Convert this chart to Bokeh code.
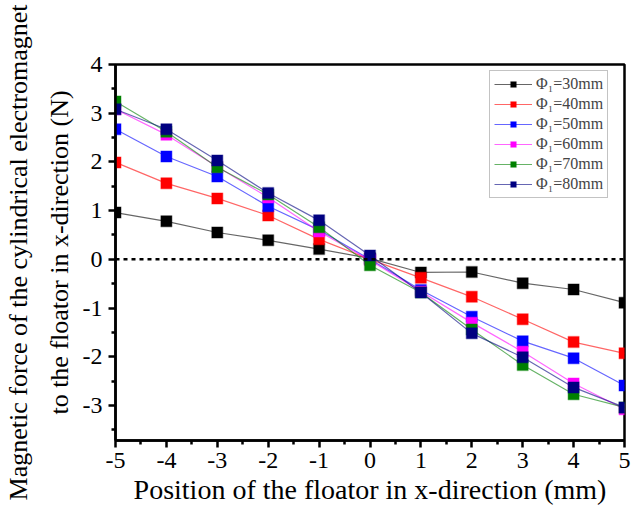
from bokeh.plotting import figure
from bokeh.models import Span, Legend, LegendItem, FixedTicker, CustomJSTickFormatter
from bokeh.embed import file_html
from bokeh.resources import INLINE

x = [-5, -4, -3, -2, -1, 0, 1, 2, 3, 4, 5]
phi30 = [0.96, 0.78, 0.55, 0.39, 0.21, 0.02, -0.27, -0.26, -0.49, -0.62, -0.89]
phi40 = [1.99, 1.56, 1.25, 0.90, 0.41, 0.0, -0.38, -0.77, -1.23, -1.70, -1.93]
phi50 = [2.67, 2.11, 1.70, 1.09, 0.60, 0.0, -0.63, -1.18, -1.68, -2.03, -2.59]
phi60 = [3.08, 2.56, 1.90, 1.27, 0.57, -0.02, -0.66, -1.30, -1.90, -2.55, -3.08]
phi70 = [3.24, 2.62, 1.89, 1.33, 0.66, -0.12, -0.68, -1.44, -2.17, -2.77, -3.04]
phi80 = [3.08, 2.67, 2.03, 1.36, 0.80, 0.08, -0.68, -1.52, -2.01, -2.63, -3.04]

series = [
    ("Φ₁=30mm", phi30, "black"),
    ("Φ₁=40mm", phi40, "red"),
    ("Φ₁=50mm", phi50, "blue"),
    ("Φ₁=60mm", phi60, "magenta"),
    ("Φ₁=70mm", phi70, "green"),
    ("Φ₁=80mm", phi80, "navy"),
]
xticks = [-5, -4, -3, -2, -1, 0, 1, 2, 3, 4, 5]
yticks = [-3, -2, -1, 0, 1, 2, 3, 4]

FONT = "Liberation Serif"

p = figure(width=631, height=512, output_backend="svg", toolbar_location=None,
           x_range=(-5, 5), y_range=(-3.72, 4.0),
           min_border_left=114, min_border_right=7, min_border_top=64, min_border_bottom=72)
p.grid.visible = False
p.outline_line_color = "black"
p.outline_line_width = 2.5
p.background_fill_color = "white"
p.border_fill_color = "white"

fmt = CustomJSTickFormatter(code="return tick.toString();")
p.xaxis.ticker = FixedTicker(ticks=xticks, minor_ticks=[v + 0.5 for v in xticks[:-1]])
p.yaxis.ticker = FixedTicker(ticks=yticks, minor_ticks=[v + 0.5 for v in [-4] + yticks[:-1]])
for ax in (p.xaxis, p.yaxis):
    ax.formatter = fmt
    ax.axis_line_width = 2.5
    ax.major_tick_line_width = 2.5
    ax.minor_tick_line_width = 2.5
    ax.major_tick_out = 7
    ax.major_tick_in = 0
    ax.minor_tick_out = 4
    ax.minor_tick_in = 0
    ax.major_label_text_font = FONT
    ax.major_label_text_font_size = "24px"
    ax.major_label_text_color = "black"
    ax.axis_label_text_font = FONT
    ax.axis_label_text_font_style = "normal"
    ax.axis_label_text_color = "black"

p.xaxis.axis_label_text_font_size = "28px"
p.yaxis.axis_label_text_font_size = "26px"
p.yaxis.axis_label_text_line_height = 1.4

p.xaxis.axis_label = "Position of the floator in x-direction (mm)"
p.yaxis.axis_label = "Magnetic force of the cylindrical electromagnet\nto the floator in x-direction (N)"
p.xaxis.major_label_standoff = 5
p.xaxis.axis_label_standoff = 3
p.yaxis.major_label_standoff = 6
p.yaxis.axis_label_standoff = 6

p.add_layout(Span(location=0, dimension="width", line_color="black",
                  line_width=2.5, line_dash="4 4"))

items = []
for label, ys, color in series:
    r1 = p.line(x, ys, line_color=color, line_width=1.2, line_alpha=0.6)
    r2 = p.scatter(x, ys, marker="square", size=11, fill_color=color, line_color=color,
                   line_alpha=0.3, line_width=1.5)
    items.append(LegendItem(label=label, renderers=[r1, r2]))

legend = Legend(items=items, location=(374, 242), border_line_color="#888888",
                border_line_width=1, label_text_font=FONT, label_text_font_size="16px",
                glyph_width=38, glyph_height=14, label_height=14, spacing=2,
                padding=4, margin=0, label_standoff=4, background_fill_alpha=1)
p.add_layout(legend)

open("out.html", "w").write(file_html(p, INLINE))
